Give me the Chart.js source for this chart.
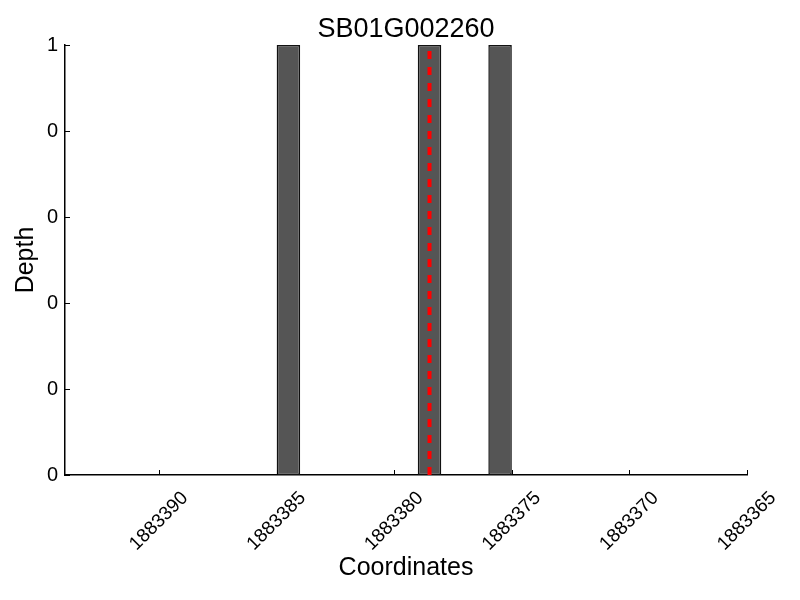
<!DOCTYPE html>
<html>
<head>
<meta charset="utf-8">
<script src="https://cdn.jsdelivr.net/npm/chart.js@4"></script>
<style>
  body { margin: 0; background: #fff; }
  #wrap { width: 800px; height: 600px; }
</style>
</head>
<body>
<div id="wrap"><canvas id="myChart"></canvas></div>
<script>
// datos
const titulo = 'SB01G002260';
const posiciones = [1883384.5, 1883378.5, 1883375.5];   // centro de cada bin de 1 pb
const profundidad = [1, 1, 1];
const marcaX = [1883378.5, 1883378.5];                  // linea roja (gen)
const marcaY = [0, 1];
const xMin = 1883365;
const xMax = 1883394;
const yMax = 1;

const fuente = "'Liberation Sans', Arial, sans-serif";

// ticks hacia adentro, como en el original
const ticksAdentro = {
  id: 'ticksAdentro',
  afterDraw(chart) {
    const ctx = chart.ctx;
    const x = chart.scales.x;
    const y = chart.scales.y;
    ctx.save();
    ctx.strokeStyle = '#000';
    ctx.lineWidth = 1;
    ctx.beginPath();
    x.ticks.forEach(t => {
      const px = Math.round(x.getPixelForValue(t.value)) + 0.5;
      ctx.moveTo(px, x.top);
      ctx.lineTo(px, x.top - 5);
    });
    y.ticks.forEach(t => {
      const py = Math.round(y.getPixelForValue(t.value)) + 0.5;
      ctx.moveTo(y.right, py);
      ctx.lineTo(y.right + 5, py);
    });
    ctx.stroke();
    ctx.restore();
  }
};

const data = {
  datasets: [
    {
      type: 'line',
      data: marcaX.map((v, i) => ({ x: v, y: marcaY[i] })),
      borderColor: '#ff0000',
      borderWidth: 4,
      borderDash: [8, 8],
      pointRadius: 0,
      fill: false,
      order: 0
    },
    {
      type: 'bar',
      data: posiciones.map((v, i) => ({ x: v, y: profundidad[i] })),
      backgroundColor: '#555555',
      borderColor: '#111111',
      borderWidth: 1.5,
      borderSkipped: false,
      // el hueco minimo entre bins es 3 pb -> 1/3 deja barras de 1 pb
      barPercentage: 1 / 3,
      categoryPercentage: 1,
      grouped: false,
      order: 1
    }
  ]
};

const config = {
  type: 'bar',
  data: data,
  options: {
    responsive: false,
    animation: false,
    layout: { padding: { left: 0, right: 53, top: 0, bottom: 0 } },
    plugins: {
      legend: { display: false },
      tooltip: { enabled: false }
    },
    scales: {
      x: {
        type: 'linear',
        position: 'bottom',
        reverse: true,
        offset: false,
        min: xMin,
        max: xMax,
        grid: { display: false, drawTicks: false, offset: false },
        border: { display: true, color: '#000', width: 1.5 },
        ticks: {
          stepSize: 5,
          includeBounds: false,
          autoSkip: false,
          minRotation: 45,
          maxRotation: 45,
          padding: 12,
          labelOffset: 26,
          color: '#000',
          font: { family: fuente, size: 19 },
          callback: v => String(v)
        },
        title: {
          display: true,
          text: 'Coordinates',
          color: '#000',
          font: { family: fuente, size: 25 },
          padding: { top: 0, bottom: 17 }
        },
        afterFit: s => { s.height = 125; }
      },
      arriba: {
        type: 'linear',
        position: 'top',
        grid: { display: false, drawTicks: false },
        border: { display: false },
        ticks: { display: false },
        title: {
          display: true,
          text: titulo,
          color: '#000',
          font: { family: fuente, size: 27 },
          padding: { top: 13, bottom: 0 }
        },
        afterFit: s => { s.height = 45; }
      },
      y: {
        min: 0,
        max: yMax,
        grid: { display: false, drawTicks: false },
        border: { display: true, color: '#000', width: 1.5 },
        ticks: {
          stepSize: 0.2,
          padding: 7,
          color: '#000',
          font: { family: fuente, size: 20 },
          callback: v => String(Math.floor(v + 1e-9))
        },
        title: {
          display: true,
          text: 'Depth',
          color: '#000',
          font: { family: fuente, size: 25 },
          padding: { top: 11, bottom: 0 }
        },
        afterFit: s => { s.width = 65; }
      }
    }
  },
  plugins: [ticksAdentro]
};

const chartGraph = document.getElementById('myChart');
chartGraph.width = 800;
chartGraph.height = 600;
window.myChart = new Chart(chartGraph, config);
</script>
</body>
</html>
